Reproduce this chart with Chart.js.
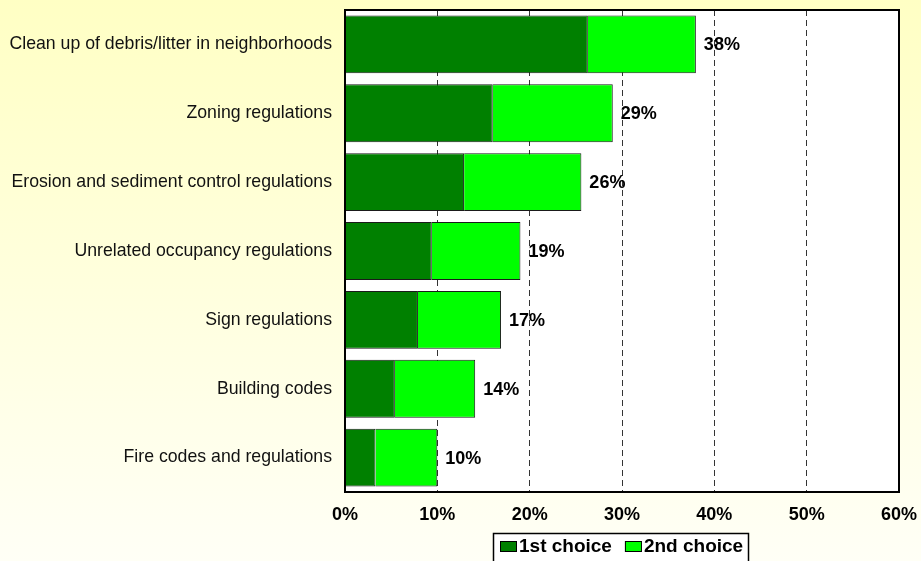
<!DOCTYPE html>
<html>
<head>
<meta charset="utf-8">
<script src="https://cdn.jsdelivr.net/npm/chart.js@4/dist/chart.umd.min.js"></script>
<style>
  html, body { margin: 0; padding: 0; background: #fff; }
  #wrap { width: 921px; height: 561px; }
</style>
</head>
<body>
<div id="wrap"><canvas id="myChart" width="921" height="561"></canvas></div>
<script>
var categories = [
    'Clean up of debris/litter in neighborhoods',
    'Zoning regulations',
    'Erosion and sediment control regulations',
    'Unrelated occupancy regulations',
    'Sign regulations',
    'Building codes',
    'Fire codes and regulations'
];
var firstChoice = [26.3, 16.0, 12.9, 9.4, 7.9, 5.4, 3.3];
var secondChoice = [11.7, 13.0, 12.7, 9.6, 9.0, 8.7, 6.7];
var totalLabels = ['38%', '29%', '26%', '19%', '17%', '14%', '10%'];
var xTicks = [0, 10, 20, 30, 40, 50, 60];

var font = '"Liberation Sans", Arial, sans-serif';

// background, plot frame, value labels, boxed legend
var decor = {
    id: 'decor',
    beforeDraw: function(chart) {
        var ctx = chart.ctx;
        var a = chart.chartArea;
        var g = ctx.createLinearGradient(0, 0, 0, chart.height);
        g.addColorStop(0, '#ffffc4');
        g.addColorStop(1, '#fffff6');
        ctx.save();
        ctx.fillStyle = g;
        ctx.fillRect(0, 0, chart.width, chart.height);
        ctx.fillStyle = '#ffffff';
        ctx.fillRect(a.left, a.top, a.right - a.left, a.bottom - a.top);
        ctx.restore();
    },
    afterDatasetsDraw: function(chart) {
        var ctx = chart.ctx;
        var a = chart.chartArea;
        ctx.save();
        ctx.strokeStyle = '#000';
        ctx.lineWidth = 2;
        ctx.strokeRect(a.left, a.top, a.right - a.left, a.bottom - a.top);

        var meta = chart.getDatasetMeta(1);
        ctx.fillStyle = '#000';
        ctx.font = 'bold 18px ' + font;
        ctx.textAlign = 'left';
        ctx.textBaseline = 'middle';
        meta.data.forEach(function(bar, i) {
            ctx.fillText(totalLabels[i], bar.x + 8, bar.y + 1);
        });

        // legend
        var lx = 493.5, ly = 533.5, lw = 255, lh = 40;
        ctx.fillStyle = '#ffffff';
        ctx.fillRect(lx, ly, lw, lh);
        ctx.lineWidth = 1.5;
        ctx.strokeStyle = '#000';
        ctx.strokeRect(lx, ly, lw, lh);
        ctx.font = 'bold 19px ' + font;
        var x = 500;
        chart.data.datasets.forEach(function(ds) {
            ctx.fillStyle = ds.backgroundColor;
            ctx.fillRect(x, 541, 17, 11);
            ctx.lineWidth = 1;
            ctx.strokeRect(x + 0.5, 541.5, 16, 10);
            ctx.fillStyle = '#000';
            ctx.fillText(ds.label, x + 19, 547);
            x += 19 + ctx.measureText(ds.label).width + 13;
        });
        ctx.restore();
    }
};

var ctx = document.getElementById('myChart').getContext('2d');
var myChart = new Chart(ctx, {
    type: 'bar',
    data: {
        labels: categories,
        datasets: [{
            label: '1st choice',
            data: firstChoice,
            backgroundColor: '#008000',
            borderColor: '#1a1a1a',
            borderWidth: 1,
            barPercentage: 0.84,
            categoryPercentage: 1
        }, {
            label: '2nd choice',
            data: secondChoice,
            backgroundColor: '#00ff00',
            borderColor: '#1a1a1a',
            borderWidth: 1,
            barPercentage: 0.84,
            categoryPercentage: 1
        }]
    },
    options: {
        indexAxis: 'y',
        responsive: false,
        animation: false,
        layout: { padding: { top: 10, right: 22, left: 0, bottom: 0 } },
        plugins: {
            legend: { display: false },
            tooltip: { enabled: false }
        },
        scales: {
            x: {
                stacked: true,
                min: 0,
                max: 60,
                afterBuildTicks: function(scale) {
                    scale.ticks = xTicks.map(function(v) { return { value: v }; });
                },
                afterFit: function(scale) { scale.height = 69; },
                border: { display: false, dash: [6, 4] },
                grid: {
                    drawTicks: true,
                    tickLength: 12,
                    tickColor: 'rgba(0,0,0,0)',
                    color: function(c) {
                        var v = c.tick ? c.tick.value : 0;
                        return (v === 0 || v === 60) ? 'rgba(0,0,0,0)' : '#333';
                    },
                    lineWidth: 1
                },
                ticks: {
                    padding: 0,
                    color: '#000',
                    font: { family: font, size: 18, weight: 'bold' },
                    callback: function(v) { return v + '%'; }
                }
            },
            y: {
                stacked: true,
                afterFit: function(scale) { scale.width = 345; },
                border: { display: false },
                grid: {
                    display: true,
                    color: 'rgba(0,0,0,0)',
                    drawTicks: true,
                    tickLength: 13,
                    tickColor: 'rgba(0,0,0,0)'
                },
                ticks: {
                    padding: 0,
                    color: '#111',
                    font: { family: font, size: 17.7, lineHeight: 1 }
                }
            }
        }
    },
    plugins: [decor]
});
</script>
</body>
</html>
